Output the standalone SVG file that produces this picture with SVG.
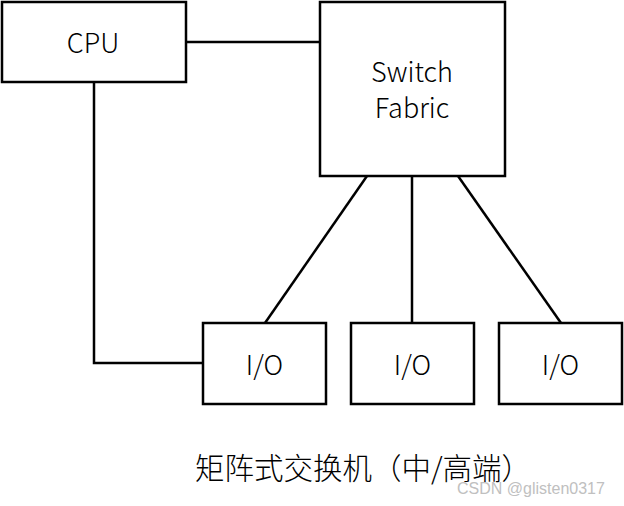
<svg xmlns="http://www.w3.org/2000/svg" width="624" height="506" viewBox="0 0 624 506">
<style>
.box{fill:#fff;stroke:#000;stroke-width:2.5}
.ln{fill:none;stroke:#000;stroke-width:2.5}
.t{font-family:"Noto Sans CJK SC","Noto Sans",sans-serif;font-weight:300;font-size:27px;fill:#000;text-anchor:middle}
.cap{font-family:"Noto Sans CJK SC",sans-serif;font-weight:300;font-size:29.5px;fill:#000}
.wm{font-family:"Liberation Sans",Arial,sans-serif;font-size:16px;fill:#c0c0c0}
</style>
<rect width="624" height="506" fill="#fff"/>
<g id="connectors">
<line class="ln" x1="186" y1="42" x2="320" y2="42"/>
<polyline class="ln" points="94,82 94,363 203,363"/>
<line class="ln" x1="367" y1="176" x2="265" y2="323"/>
<line class="ln" x1="412" y1="176" x2="412" y2="323"/>
<line class="ln" x1="458" y1="176" x2="561" y2="323"/>
</g>
<g id="cpu"><rect class="box" x="2" y="2" width="184" height="80"/><text class="t" x="93" y="53">CPU</text></g>
<g id="switch"><rect class="box" x="320" y="2" width="185" height="174"/><text class="t" x="412" y="82">Switch</text><text class="t" x="412" y="118">Fabric</text></g>
<g id="io1"><rect class="box" x="203" y="323" width="123" height="81"/><text class="t" x="264.5" y="375">I/O</text></g>
<g id="io2"><rect class="box" x="351" y="323" width="123" height="81"/><text class="t" x="412.5" y="375">I/O</text></g>
<g id="io3"><rect class="box" x="499" y="323" width="123" height="81"/><text class="t" x="560.5" y="375">I/O</text></g>
<text class="cap" x="195" y="479">矩阵式交换机（中/高端）</text>
<text class="wm" x="457" y="494">CSDN @glisten0317</text>
</svg>
